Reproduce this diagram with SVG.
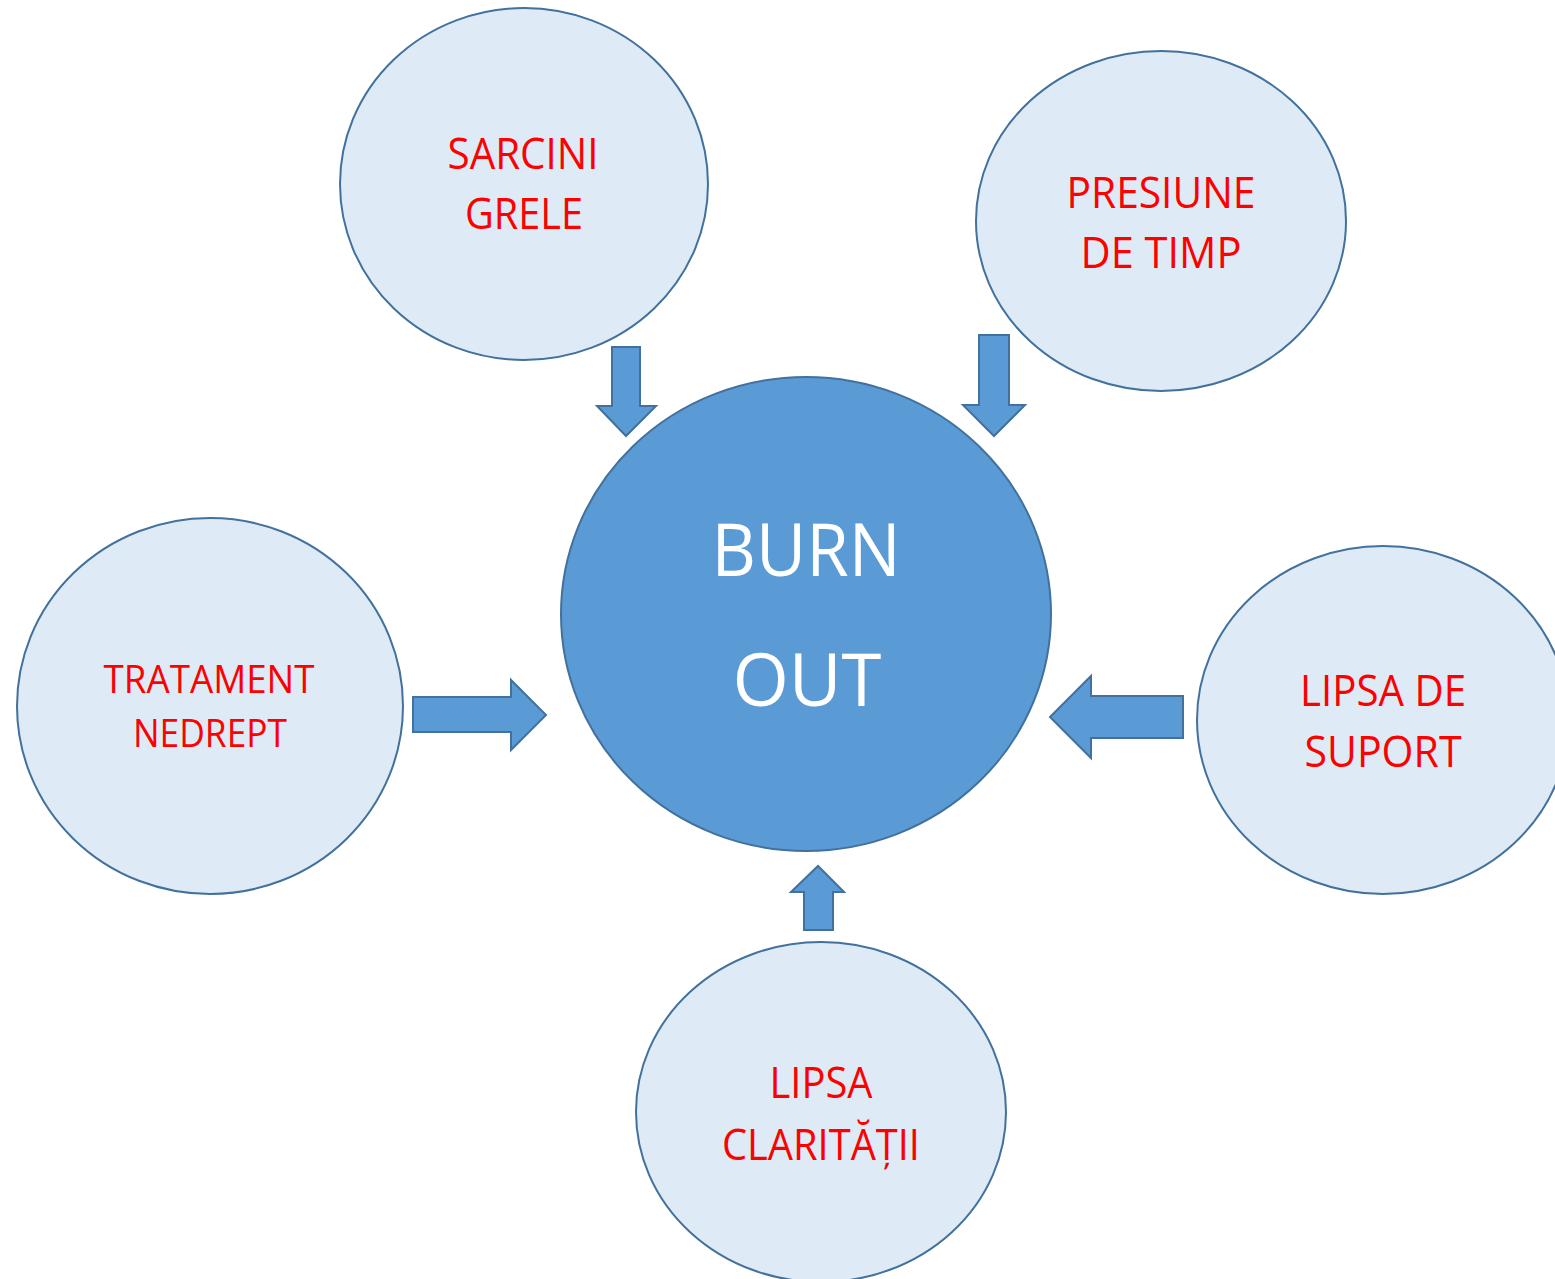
<svg xmlns="http://www.w3.org/2000/svg" width="1555" height="1279" viewBox="0 0 1555 1279">
<style>
.sat{fill:#DEEBF7;stroke:#41719C;stroke-width:2}
.core{fill:#5B9BD5;stroke:#41719C;stroke-width:2}
.arr{fill:#5B9BD5;stroke:#41719C;stroke-width:2;stroke-linejoin:miter}
.lbl{font-family:"Open Sans","Liberation Sans",sans-serif;fill:#FF0000;font-size:43px;text-anchor:middle}
.big{font-family:"Open Sans","Liberation Sans",sans-serif;fill:#FFFFFF;font-size:74px;text-anchor:middle}
</style>
<rect width="1555" height="1279" fill="#FFFFFF"/>
<g id="node-sarcini">
<ellipse class="sat" cx="524" cy="184" rx="184" ry="176"/>
<text class="lbl" x="523" y="169" textLength="151" lengthAdjust="spacingAndGlyphs">SARCINI</text>
<text class="lbl" x="524" y="229" textLength="118" lengthAdjust="spacingAndGlyphs">GRELE</text>
</g>
<g id="node-presiune">
<ellipse class="sat" cx="1161" cy="221" rx="185" ry="170"/>
<text class="lbl" x="1161" y="208" textLength="189" lengthAdjust="spacingAndGlyphs">PRESIUNE</text>
<text class="lbl" x="1161" y="268" textLength="161" lengthAdjust="spacingAndGlyphs">DE TIMP</text>
</g>
<g id="node-tratament">
<ellipse class="sat" cx="210" cy="706" rx="193" ry="188"/>
<text class="lbl" x="209" y="693" style="font-size:38px" textLength="211" lengthAdjust="spacingAndGlyphs">TRATAMENT</text>
<text class="lbl" x="210" y="747" style="font-size:38px" textLength="154" lengthAdjust="spacingAndGlyphs">NEDREPT</text>
</g>
<g id="node-suport">
<ellipse class="sat" cx="1383" cy="720" rx="186" ry="174"/>
<text class="lbl" x="1383" y="706" textLength="166" lengthAdjust="spacingAndGlyphs">LIPSA DE</text>
<text class="lbl" x="1383" y="767" textLength="157" lengthAdjust="spacingAndGlyphs">SUPORT</text>
</g>
<g id="node-claritatii">
<ellipse class="sat" cx="821" cy="1112" rx="185" ry="170"/>
<text class="lbl" x="821" y="1098" textLength="103" lengthAdjust="spacingAndGlyphs">LIPSA</text>
<text class="lbl" x="821" y="1160" textLength="198" lengthAdjust="spacingAndGlyphs">CLARITĂȚII</text>
</g>
<g id="node-burnout">
<ellipse class="core" cx="806" cy="614" rx="245" ry="237"/>
<text class="big" x="806" y="576" textLength="189" lengthAdjust="spacingAndGlyphs">BURN</text>
<text class="big" x="807" y="706" textLength="149" lengthAdjust="spacingAndGlyphs">OUT</text>
</g>
<g id="connectors">
<polygon class="arr" points="612,347 640,347 640,406 656,406 626,436 597,406 612,406"/>
<polygon class="arr" points="979,335 1009,335 1009,405 1025,405 994,436 963,405 979,405"/>
<polygon class="arr" points="413,697 511,697 511,680 546,715 511,750 511,732 413,732"/>
<polygon class="arr" points="1183,696 1091,696 1091,676 1050,717 1091,758 1091,738 1183,738"/>
<polygon class="arr" points="804,930 833,930 833,892 844,892 818,866 791,892 804,892"/>
</g>
</svg>
